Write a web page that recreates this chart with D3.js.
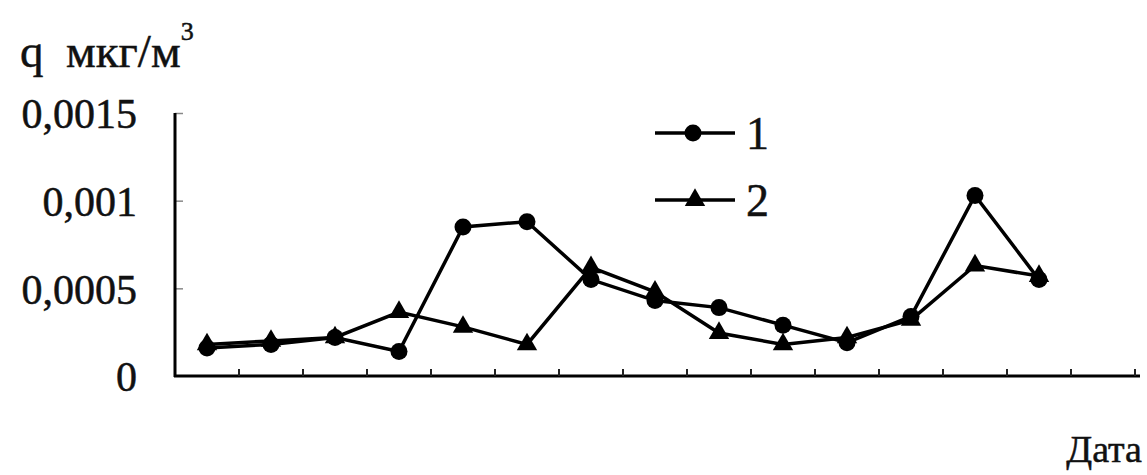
<!DOCTYPE html>
<html>
<head>
<meta charset="utf-8">
<script src="https://cdn.jsdelivr.net/npm/d3@7"></script>
<style>
  body { margin: 0; background: #fff; }
  svg { display: block; }
  text { font-family: "Liberation Serif", "Times New Roman", serif; fill: #111; stroke: #111; stroke-width: 0.5px; }
</style>
</head>
<body>
<script>
// 15 date slots on the x axis (no labels printed), 14 measured points
const categories = d3.range(1, 16).map(String);
const series1 = [0.00016, 0.00018, 0.00022, 0.00014, 0.00085, 0.00088, 0.00055, 0.00043,
  0.00039, 0.00029, 0.00019, 0.00034, 0.00103, 0.00055];
const series2 = [0.00018, 0.0002, 0.00022, 0.000365, 0.00028, 0.00018, 0.00062, 0.00048,
  0.000245, 0.00018, 0.00022, 0.00032, 0.00063, 0.00057];
const yTicks = [0, 0.0005, 0.001, 0.0015];
const yTickLabels = ["0", "0,0005", "0,001", "0,0015"];
const legendLabels = ["1", "2"];

const w = 1147;
const h = 475;

const svg = d3.select("body")
  .append("svg")
  .attr("width", w)
  .attr("height", h);

const x = d3.scaleBand()
  .domain(categories)
  .range([175, 1135]);

const y = d3.scaleLinear()
  .domain([0, 0.0015])
  .range([376, 113]);

const cx = (d, i) => x(categories[i]) + x.bandwidth() / 2;

// y axis
const yAxis = d3.axisLeft(y)
  .tickValues(yTicks)
  .tickSize(-8)
  .tickPadding(38)
  .tickFormat((d, i) => yTickLabels[i]);

const gy = svg.append("g")
  .attr("transform", "translate(175,0)")
  .call(yAxis);
gy.select(".domain").remove();
gy.selectAll(".tick line").attr("stroke", "#888").attr("stroke-width", 1.5)
  .filter(d => d === 0).remove();
gy.selectAll(".tick text")
  .style("font-size", "42px")
  .attr("dy", "0.35em");

svg.append("line")
  .attr("x1", 175).attr("x2", 175)
  .attr("y1", y(0.0015)).attr("y2", y(0) + 1)
  .attr("stroke", "#000").attr("stroke-width", 3);

// x axis with ticks between the date slots
svg.append("line")
  .attr("x1", 174).attr("x2", 1140)
  .attr("y1", y(0)).attr("y2", y(0))
  .attr("stroke", "#000").attr("stroke-width", 3);

svg.append("g")
  .selectAll("line")
  .data(categories)
  .enter()
  .append("line")
  .attr("x1", d => x(d) + x.bandwidth())
  .attr("x2", d => x(d) + x.bandwidth())
  .attr("y1", y(0))
  .attr("y2", y(0) - 7)
  .attr("stroke", "#222")
  .attr("stroke-width", 2);

// lines
const line = d3.line()
  .x(cx)
  .y(d => y(d));

svg.append("path")
  .datum(series2)
  .attr("d", line)
  .attr("fill", "none")
  .attr("stroke", "#000")
  .attr("stroke-width", 3.5);

svg.append("path")
  .datum(series1)
  .attr("d", line)
  .attr("fill", "none")
  .attr("stroke", "#000")
  .attr("stroke-width", 3.5);

const tri = d3.symbol().type(d3.symbolTriangle).size(180);

svg.append("g")
  .selectAll("path")
  .data(series2)
  .enter()
  .append("path")
  .attr("d", tri)
  .attr("transform", (d, i) => `translate(${cx(d, i)},${y(d)})`)
  .attr("fill", "#000");

svg.append("g")
  .selectAll("circle")
  .data(series1)
  .enter()
  .append("circle")
  .attr("cx", cx)
  .attr("cy", d => y(d))
  .attr("r", 8.5)
  .attr("fill", "#000");

// legend
const legend = svg.append("g").attr("transform", "translate(655,133)");
legendLabels.forEach((lab, i) => {
  const g = legend.append("g").attr("transform", `translate(0,${i * 67})`);
  g.append("line")
    .attr("x1", 0).attr("x2", 80)
    .attr("stroke", "#000").attr("stroke-width", 3.5);
  if (i === 0) {
    g.append("circle").attr("cx", 38).attr("r", 8.5).attr("fill", "#000");
  } else {
    g.append("path").attr("d", tri).attr("transform", "translate(40,0)").attr("fill", "#000");
  }
  g.append("text")
    .attr("x", 91)
    .attr("dy", "0.35em")
    .style("font-size", "46px")
    .text(lab);
});

// axis titles
const title = svg.append("text")
  .attr("x", 20)
  .attr("y", 67)
  .style("font-size", "47px");
title.append("tspan").text("q");
title.append("tspan").attr("x", 66).text("мкг/м");
title.append("tspan")
  .attr("dy", -27)
  .style("font-size", "26px")
  .text("3");

svg.append("text")
  .attr("x", 1142)
  .attr("y", 462)
  .attr("text-anchor", "end")
  .style("font-size", "38px")
  .text("Дата");
</script>
</body>
</html>
